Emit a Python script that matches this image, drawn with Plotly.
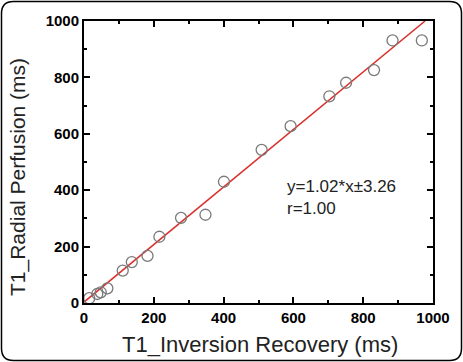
import plotly.graph_objects as go

# Data
ir_ms = [15, 38, 48, 67, 111, 137, 182, 216, 278, 348, 401, 509, 592, 703, 751, 831, 884, 968]
radial_ms = [17, 32, 38, 52, 115, 145, 167, 235, 302, 313, 430, 543, 627, 733, 781, 826, 931, 931]
slope = 1.02
intercept = 3.26
fit_x = [0, (1000 - intercept) / slope]
fit_y = [slope * v + intercept for v in fit_x]
tick_vals = [0, 200, 400, 600, 800, 1000]
tick_text = ["<b>%d</b>" % v for v in tick_vals]

W, H = 463, 362
L, R, T, B = 84, 30, 21, 59
pw, ph = W - L - R, H - T - B

fig = go.Figure()
fig.add_trace(go.Scatter(x=fit_x, y=fit_y, mode="lines",
                         line=dict(color="#d9302c", width=1.5), showlegend=False))
fig.add_trace(go.Scatter(x=ir_ms, y=radial_ms, mode="markers",
                         marker=dict(symbol="circle-open", size=11, color="#7a7a7a",
                                     line=dict(width=1.3, color="#7a7a7a")),
                         showlegend=False))

axis_common = dict(range=[0, 1000], tickvals=tick_vals, ticktext=tick_text,
                   ticks="inside", ticklen=6,
                   tickwidth=2, tickcolor="black", showline=True, linecolor="black",
                   linewidth=2, mirror="ticks", showgrid=False, zeroline=False,
                   tickfont=dict(family="Liberation Sans", size=15, color="black"),
                   minor=dict(ticks="inside", ticklen=3, dtick=100, tickwidth=2,
                              tickcolor="black", showgrid=False))
fig.update_xaxes(**axis_common)
fig.update_yaxes(**axis_common)

def px2paper(px, py):
    return (px - L) / pw, (H - B - py) / ph

annos = []
annos.append(dict(text="T1_Inversion Recovery (ms)", xref="paper", yref="paper",
                  x=px2paper(260, 0)[0], y=px2paper(0, 344)[1], showarrow=False,
                  xanchor="center", yanchor="middle",
                  font=dict(family="Liberation Sans", size=22, color="#222")))
annos.append(dict(text="T1_Radial Perfusion (ms)", xref="paper", yref="paper",
                  x=px2paper(18, 0)[0], y=px2paper(0, 177)[1], showarrow=False,
                  textangle=-90, xanchor="center", yanchor="middle",
                  font=dict(family="Liberation Sans", size=21, color="#222")))
annos.append(dict(text="y=1.02*x±3.26<br>r=1.00", xref="paper", yref="paper",
                  x=px2paper(285, 0)[0], y=px2paper(0, 197)[1], showarrow=False,
                  xanchor="left", yanchor="middle", align="left",
                  font=dict(family="Liberation Sans", size=17, color="#222")))

# rounded border around the image
bx0, by0 = px2paper(1.5, 360.5)
bx1, by1 = px2paper(461.5, 1.5)
rx = 12 / pw
ry = 12 / ph
path = (f"M {bx0+rx},{by0} L {bx1-rx},{by0} Q {bx1},{by0} {bx1},{by0+ry} "
        f"L {bx1},{by1-ry} Q {bx1},{by1} {bx1-rx},{by1} L {bx0+rx},{by1} "
        f"Q {bx0},{by1} {bx0},{by1-ry} L {bx0},{by0+ry} Q {bx0},{by0} {bx0+rx},{by0} Z")
fig.add_shape(type="path", path=path, xref="paper", yref="paper",
              line=dict(color="black", width=1.5), layer="above")

fig.update_layout(width=W, height=H, margin=dict(l=L, r=R, t=T, b=B),
                  paper_bgcolor="white", plot_bgcolor="white", annotations=annos)
fig.write_html("out.html")
